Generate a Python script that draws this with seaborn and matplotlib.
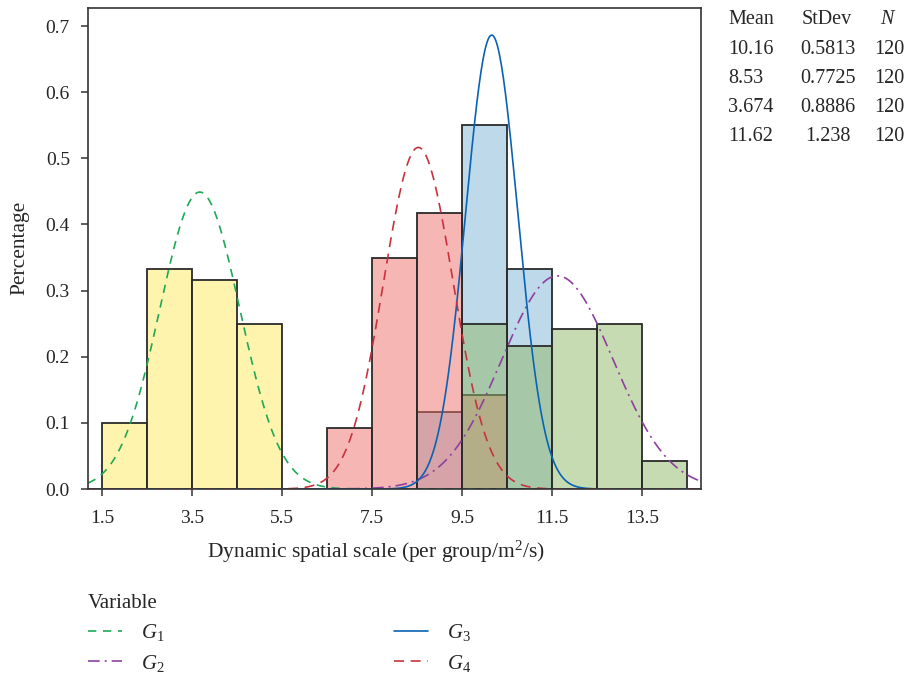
import numpy as np
import pandas as pd
import matplotlib
matplotlib.use("Agg")
import matplotlib.pyplot as plt
import seaborn as sns
from matplotlib.lines import Line2D

# ---------------- data ----------------
groups = ["G1", "G2", "G3", "G4"]
legend_labels = ["$G_1$", "$G_2$", "$G_3$", "$G_4$"]
bin_centers = [2, 3, 4, 5, 6, 7, 8, 9, 10, 11, 12, 13, 14]
counts_g1 = [12, 40, 38, 30, 0, 0, 0, 0, 0, 0, 0, 0, 0]
counts_g2 = [0, 0, 0, 0, 0, 0, 0, 0, 30, 26, 29, 30, 5]
counts_g3 = [0, 0, 0, 0, 0, 0, 0, 14, 66, 40, 0, 0, 0]
counts_g4 = [0, 0, 0, 0, 0, 11, 42, 50, 17, 0, 0, 0, 0]
group_mean = [3.674, 11.62, 10.16, 8.53]
group_sd = [0.8886, 1.238, 0.5813, 0.7725]
group_n = [120, 120, 120, 120]

table_mean = ["10.16", "8.53", "3.674", "11.62"]
table_sd = ["0.5813", "0.7725", "0.8886", "1.238"]
table_n = ["120", "120", "120", "120"]

x_ticks = [1.5, 3.5, 5.5, 7.5, 9.5, 11.5, 13.5]
y_ticks = [0.0, 0.1, 0.2, 0.3, 0.4, 0.5, 0.6, 0.7]

# ---------------- style ----------------
sns.set_style("ticks")
plt.rcParams["font.family"] = ["Liberation Serif", "DejaVu Serif"]
plt.rcParams["mathtext.fontset"] = "custom"
plt.rcParams["mathtext.rm"] = "Liberation Serif"
plt.rcParams["mathtext.it"] = "Liberation Serif:italic"
plt.rcParams["axes.edgecolor"] = "#333333"
plt.rcParams["axes.linewidth"] = 1.2

FS_TICK = 14
FS_LAB = 15.5
FS_TAB = 14.5
FS_LEG = 15
W, H = 906, 678
fig = plt.figure(figsize=(W / 100, H / 100), dpi=100)
ax = fig.add_axes([88 / W, 1 - 489 / H, (701 - 88) / W, (489 - 8) / H])

hist_colors = {"G1": "#ffeb5f", "G2": "#91b969", "G3": "#7db5d7", "G4": "#ef6f69"}
curve_colors = {"G1": "#1daa55", "G2": "#8e3f9f", "G3": "#0a62b4", "G4": "#c8323e"}
curve_styles = {"G1": (0, (5, 4)), "G2": (0, (7, 3, 1.2, 3)), "G3": "-", "G4": (0, (6, 4))}

counts = {"G1": counts_g1, "G2": counts_g2, "G3": counts_g3, "G4": counts_g4}

draw_order = ["G1", "G3", "G4", "G2"]
for g in draw_order:
    i = groups.index(g)
    c = np.array(counts[g], dtype=float)
    centers = np.array(bin_centers, dtype=float)
    mask = c > 0
    df = pd.DataFrame({"x": centers[mask], "w": c[mask] / group_n[i]})
    lo = float(df["x"].min() - 0.5)
    hi = float(df["x"].max() + 0.5)
    sns.histplot(data=df, x="x", weights="w", binwidth=1.0, binrange=(lo, hi),
                 color=hist_colors[g], alpha=0.5, edgecolor="#2a2a2a",
                 linewidth=1.3, ax=ax)

xmin, xmax = 1.19, 14.81
xs = np.linspace(xmin, xmax, 600)
for i, g in enumerate(groups):
    m, s = group_mean[i], group_sd[i]
    pdf = np.exp(-0.5 * ((xs - m) / s) ** 2) / (s * np.sqrt(2 * np.pi))
    sns.lineplot(x=xs, y=pdf, color=curve_colors[g], linestyle=curve_styles[g],
                 linewidth=1.2, ax=ax, legend=False)

ax.set_xlim(xmin, xmax)
ax.set_ylim(0, 0.7 + 18 / 661)
ax.set_xticks(x_ticks)
ax.set_xticklabels([f"{v:.1f}" for v in x_ticks])
ax.set_yticks(y_ticks)
ax.set_yticklabels([f"{v:.1f}" for v in y_ticks])
ax.tick_params(labelsize=FS_TICK, length=5, width=1.1, color="#333333")
ax.tick_params(axis="x", pad=10)
ax.tick_params(axis="y", pad=8)
for sp in ax.spines.values():
    sp.set_visible(True)
ax.set_xlabel("Dynamic spatial scale (per group/m$^2$/s)", fontsize=FS_LAB)
ax.xaxis.set_label_coords((376 - 88) / 613, (489 - 539) / 481)
ax.set_ylabel("Percentage", fontsize=FS_LAB)
ax.yaxis.set_label_coords((29 - 88) / 613, (489 - 248) / 481)

# ---------------- stats table ----------------
base_y = [24, 54, 83, 112, 141]
fig.text(728 / W, 1 - base_y[0] / H, "Mean", fontsize=FS_TAB, va="baseline", ha="left")
fig.text(827 / W, 1 - base_y[0] / H, "StDev", fontsize=FS_TAB, va="baseline", ha="center")
fig.text(887 / W, 1 - base_y[0] / H, "N", fontsize=FS_TAB, va="baseline", ha="center",
         style="italic")
for k in range(4):
    y = 1 - base_y[k + 1] / H
    fig.text(728 / W, y, table_mean[k], fontsize=FS_TAB, va="baseline", ha="left")
    fig.text(828 / W, y, table_sd[k], fontsize=FS_TAB, va="baseline", ha="center")
    fig.text(889 / W, y, table_n[k], fontsize=FS_TAB, va="baseline", ha="center")

# ---------------- legend ----------------
handles = [Line2D([0], [0], color=curve_colors[g], linestyle=curve_styles[g], linewidth=1.2)
           for g in groups]
leg = fig.legend(handles, legend_labels, loc="upper left",
                 bbox_to_anchor=(69 / W, 1 - 575 / H), ncol=2, frameon=False,
                 title="Variable", title_fontsize=FS_LEG, fontsize=FS_LEG,
                 handlelength=1.65, handletextpad=0.9, columnspacing=11.0,
                 labelspacing=0.45, alignment="left")

fig.savefig("out.png", dpi=100)
